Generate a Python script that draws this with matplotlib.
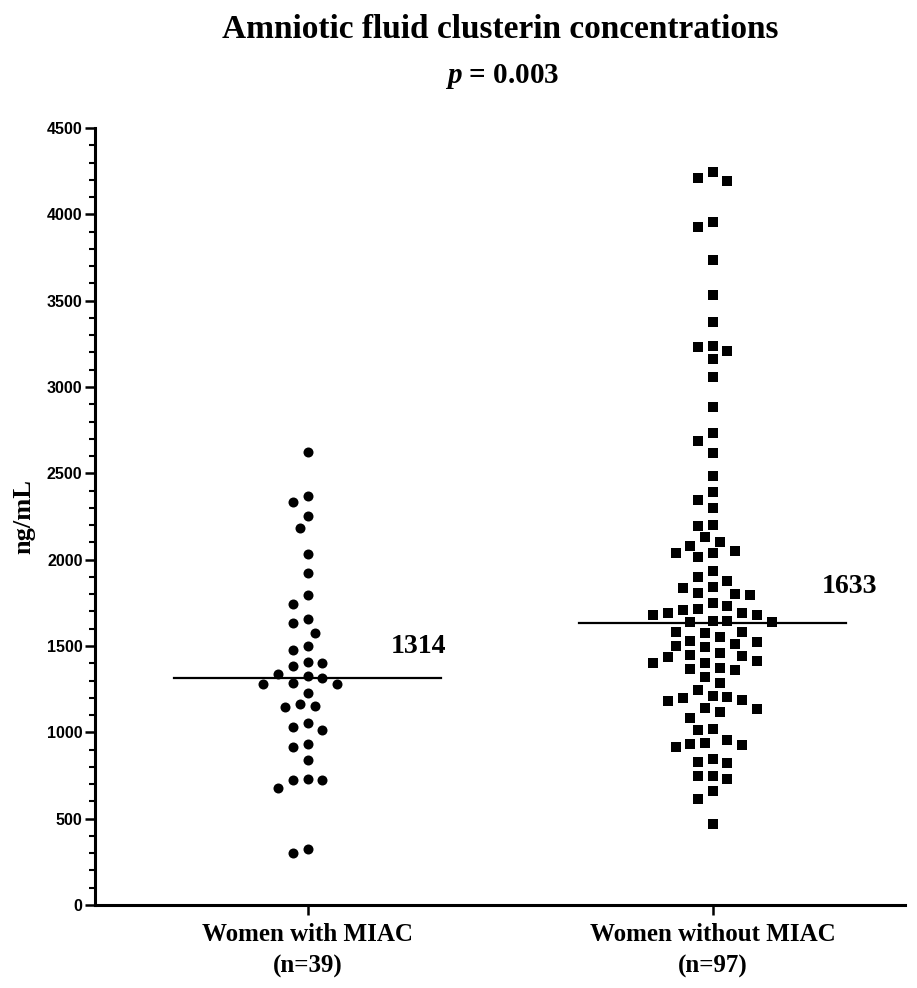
import numpy as np
import matplotlib
matplotlib.use("Agg")
import matplotlib.pyplot as plt

# clusterin concentrations (ng/mL)
with_miac = [2623, 2369, 2332, 2253, 2185, 2035, 1923, 1794, 1745, 1631,
             1654, 1577, 1479, 1498, 1401, 1382, 1405, 1326, 1338, 1315,
             1284, 1280, 1280, 1230, 1152, 1149, 1164, 1056, 1031, 1012,
             917, 932, 838, 728, 722, 724, 679, 299, 326]
without_miac = [4208, 4195, 4243, 3927, 3957, 3733, 3533, 3376, 3233, 3160,
                3206, 3239, 3058, 2884, 2735, 2689, 2619, 2484, 2394, 2345,
                2297, 2201, 2195, 2129, 2104, 2079, 2037, 2037, 2052, 2013,
                1934, 1898, 1878, 1843, 1834, 1805, 1795, 1801, 1733, 1751,
                1712, 1689, 1680, 1677, 1689, 1708, 1642, 1639, 1639, 1642,
                1579, 1582, 1550, 1524, 1529, 1573, 1500, 1492, 1512, 1457,
                1442, 1415, 1403, 1434, 1448, 1367, 1361, 1374, 1403, 1322,
                1284, 1245, 1212, 1202, 1187, 1183, 1197, 1139, 1116, 1137,
                1085, 1017, 1013, 956, 932, 917, 924, 940, 830, 824,
                845, 747, 730, 747, 660, 615, 470]
medians = [1314, 1633]
groups = ["Women with MIAC\n(n=39)", "Women without MIAC\n(n=97)"]

plt.rcParams['mathtext.fontset'] = 'custom'
plt.rcParams['mathtext.it'] = 'Liberation Serif:italic:bold'
plt.rcParams['mathtext.rm'] = 'Liberation Serif:bold'

W, H = 917, 988
fig = plt.figure(figsize=(W / 100, H / 100), dpi=100)
ax = fig.add_axes([95 / W, 83 / H, 810 / W, 777 / H])
ax.set_xlim(-0.525, 1.475)
ax.set_ylim(0, 4500)

# pixels per data unit, used to lay the points out as a swarm
px_x = 810 / 2.0
px_y = 777 / 4500.0


def swarm(values, step=7.4, mindist=13.5):
    vals = np.asarray(values, dtype=float)
    ypx = vals * px_y
    offs = np.zeros(len(vals))
    placed = []
    for i in np.argsort(-vals):
        k = 0
        while True:
            for cand in ([0] if k == 0 else [-k, k]):
                x = cand * step
                if all((x - px) ** 2 + (ypx[i] - py) ** 2 >= mindist ** 2
                       for px, py in placed):
                    offs[i] = x
                    placed.append((x, ypx[i]))
                    break
            else:
                k += 1
                continue
            break
    return offs / px_x


x1 = 0 + swarm(with_miac)
x2 = 1 + swarm(without_miac)
ax.scatter(x1, with_miac, marker='o', s=52, color='black', linewidths=0, zorder=3)
ax.scatter(x2, without_miac, marker='s', s=48, color='black', linewidths=0, zorder=3)

for i, m in enumerate(medians):
    ax.plot([i - 0.33, i + 0.33], [m, m], color='black', lw=1.6, zorder=2)

ax.text(0.205, medians[0] + 110, str(medians[0]), fontsize=20, fontweight='bold',
        family='Liberation Serif', ha='left', va='bottom')
ax.text(1.27, medians[1] + 140, str(medians[1]), fontsize=20, fontweight='bold',
        family='Liberation Serif', ha='left', va='bottom')

ax.spines['top'].set_visible(False)
ax.spines['right'].set_visible(False)
ax.spines['left'].set_linewidth(2.2)
ax.spines['bottom'].set_linewidth(2.2)

ax.set_yticks(np.arange(0, 4501, 500))
ax.set_yticks(np.arange(0, 4501, 100), minor=True)
ax.tick_params(axis='y', which='major', length=7, width=1.8, pad=2)
ax.tick_params(axis='y', which='minor', length=4, width=1.5)
for lab in ax.get_yticklabels():
    lab.set_family('Liberation Sans')
    lab.set_fontweight('bold')
    lab.set_fontsize(11.5)

ax.set_xticks([0, 1])
ax.set_xticklabels(groups, family='Liberation Serif', fontweight='bold', fontsize=18,
                   linespacing=1.5)
ax.tick_params(axis='x', length=7, width=1.8, pad=6)

ax.set_ylabel("ng/mL", family='Liberation Serif', fontweight='bold', fontsize=19,
              labelpad=8)

fig.text(0.545, 0.970, "Amniotic fluid clusterin concentrations", family='Liberation Serif',
         fontweight='bold', fontsize=24, ha='center', va='center')
fig.text(0.548, 0.923, "$p$ = 0.003", family='Liberation Serif', fontweight='bold',
         fontsize=21, ha='center', va='center')

fig.savefig("out.png", dpi=100)
